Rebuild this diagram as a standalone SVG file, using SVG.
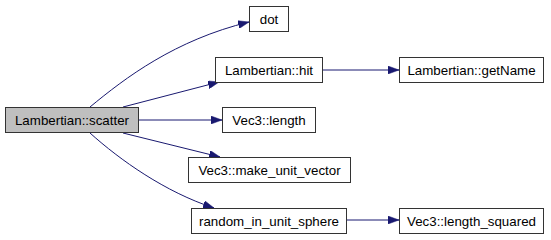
<svg xmlns="http://www.w3.org/2000/svg" width="551" height="240" viewBox="0 0 551 240">
  <style>
    .node rect { fill: #ffffff; stroke: #333333; stroke-width: 1; }
    .node.root rect { fill: #bfbfbf; }
    .node text { font-family: "Liberation Sans", Arial, sans-serif; font-size: 13.33px; fill: #000000; text-anchor: middle; }
    .edge { fill: none; stroke: #191970; stroke-width: 1; marker-end: url(#arrow); }
  </style>
  <defs>
    <marker id="arrow" viewBox="0 0 11 8" refX="11" refY="4" markerWidth="11" markerHeight="8" markerUnits="userSpaceOnUse" orient="auto">
      <path d="M0,0 L11,4 L0,8 z" fill="#191970" stroke="#191970" stroke-width="0.5"/>
    </marker>
  </defs>
  <rect width="551" height="240" fill="#ffffff"/>

  <g id="edges">
    <path class="edge" d="M90,107 C125,78 175,40 249,22"/>
    <path class="edge" d="M123,107 L219,82"/>
    <path class="edge" d="M139,120 L222,120"/>
    <path class="edge" d="M123,133 L220,157"/>
    <path class="edge" d="M90,133 C120,160 165,192 214,208"/>
    <path class="edge" d="M323,70 L399,70"/>
    <path class="edge" d="M347,220 L399,220"/>
  </g>

  <g id="node-scatter" class="node root">
    <rect x="5.5" y="107.5" width="133" height="25"/>
    <text x="72" y="125">Lambertian::scatter</text>
  </g>
  <g id="node-dot" class="node">
    <rect x="249.5" y="6.5" width="39" height="25"/>
    <text x="269" y="24">dot</text>
  </g>
  <g id="node-hit" class="node">
    <rect x="215.5" y="57.5" width="107" height="25"/>
    <text x="269" y="75">Lambertian::hit</text>
  </g>
  <g id="node-getName" class="node">
    <rect x="399.5" y="57.5" width="144" height="25"/>
    <text x="471.5" y="75">Lambertian::getName</text>
  </g>
  <g id="node-length" class="node">
    <rect x="222.5" y="107.5" width="93" height="25"/>
    <text x="269" y="125">Vec3::length</text>
  </g>
  <g id="node-make_unit_vector" class="node">
    <rect x="188.5" y="157.5" width="162" height="25"/>
    <text x="269.5" y="175">Vec3::make_unit_vector</text>
  </g>
  <g id="node-random_in_unit_sphere" class="node">
    <rect x="191.5" y="208.5" width="155" height="25"/>
    <text x="269" y="226">random_in_unit_sphere</text>
  </g>
  <g id="node-length_squared" class="node">
    <rect x="399.5" y="208.5" width="144" height="25"/>
    <text x="471.5" y="226">Vec3::length_squared</text>
  </g>
</svg>
